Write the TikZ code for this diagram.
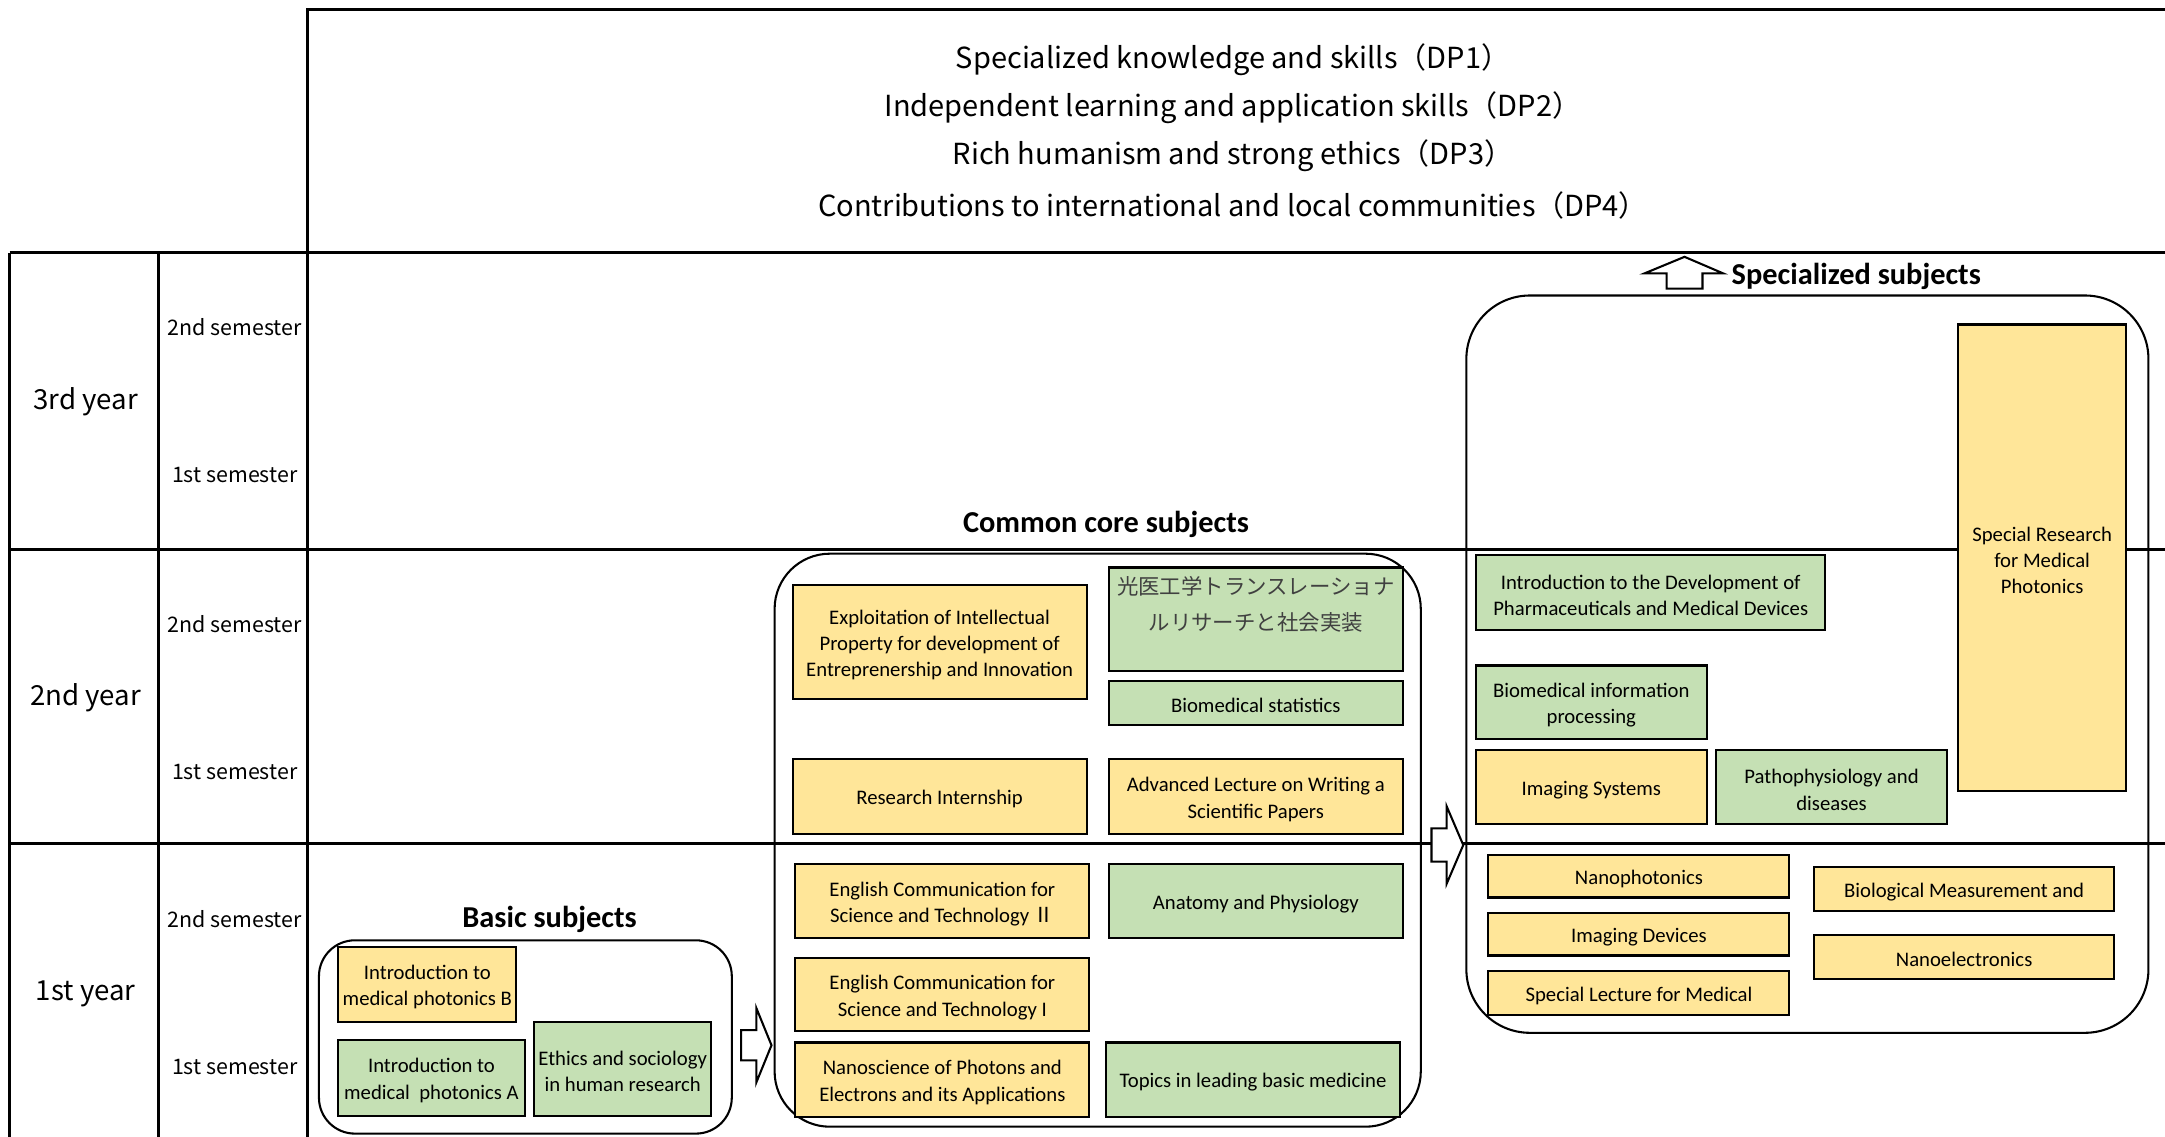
\documentclass[tikz,border=0pt]{standalone}
\usepackage{fontspec}
\setmainfont{Carlito}
\newfontfamily\cjk{Noto Sans CJK JP}
\definecolor{ylw}{HTML}{FFE699}
\definecolor{grn}{HTML}{C5E0B4}
\newcommand\subj[7]{\node[#1, minimum width={#4-#2}, minimum height={#5-#3}] (#6) at ({(#2+#4)/2},{(#3+#5)/2}) {};
  \node[boxtext] (#6-t) at ([yshift=-2pt]#6.center) {#7};}
\begin{document}
\begin{tikzpicture}[x=1pt,y=-1pt,
  gridline/.style={line width=2.2pt},
  sbox/.style={draw, line width=1.5pt, inner sep=0pt},
  boxtext/.style={inner sep=0pt, align=center, font=\fontsize{15}{19}\selectfont},
  ybox/.style={sbox, fill=ylw},
  gbox/.style={sbox, fill=grn},
  rbox/.style={draw, line width=1.5pt, inner sep=0pt},
  hdr/.style={font=\cjk\fontsize{21}{21}\selectfont, inner sep=0pt},
  yr/.style={font=\cjk\fontsize{20}{20}\selectfont, inner sep=0pt},
  sem/.style={font=\cjk\fontsize{15.5}{16}\selectfont, inner sep=0pt},
  ttl/.style={font=\bfseries\fontsize{22}{22}\selectfont, inner sep=0pt},
  blockarrow/.style={draw, fill=white, line width=1.5pt, line join=miter}]
\useasboundingbox (0,0) rectangle (1568,823);
\clip (0,0) rectangle (1568,823);
% grid
\draw[gridline] (1600,7) -- (223,7) -- (223,840);
\draw[gridline] (7,183) -- (1600,183);
\draw[gridline] (7,398) -- (1600,398);
\draw[gridline] (7,611) -- (1600,611);
\draw[gridline] (7,183) -- (7,840);
\draw[gridline] (115,183) -- (115,840);
% header
\node[hdr] (dp1) at (893,43) {Specialized knowledge and skills（DP1）};
\node[hdr] (dp2) at (893,78) {Independent learning and application skills（DP2）};
\node[hdr] (dp3) at (893,113) {Rich humanism and strong ethics（DP3）};
\node[hdr] (dp4) at (893,149) {Contributions to international and local communities（DP4）};
% year labels
\node[yr] (y3) at (62,291) {3rd year};
\node[yr] (y2) at (62,505) {2nd year};
\node[yr] (y1) at (62,720) {1st year};
\node[sem] (s32) at (170,237) {2nd semester};
\node[sem] (s31) at (170,344) {1st semester};
\node[sem] (s22) at (170,452) {2nd semester};
\node[sem] (s21) at (170,559) {1st semester};
\node[sem] (s12) at (170,666) {2nd semester};
\node[sem] (s11) at (170,773) {1st semester};
% group titles
\node[ttl] (tcore) at (801,380) {Common core subjects};
\node[ttl] (tbasic) at (398,666) {Basic subjects};
\node[ttl, anchor=west] (tspec) at (1254,200) {Specialized subjects};
% rounded group boxes
\node[rbox, rounded corners=40pt, minimum width=468, minimum height=415] (core) at (795,608.5) {};
\node[rbox, rounded corners=26pt, minimum width=299, minimum height=140] (basic) at (380.5,751) {};
\node[rbox, rounded corners=46pt, minimum width=494, minimum height=534] (spec) at (1309,481) {};
% common core subjects
\subj{ybox}{574}{424}{787}{506}{expl}{Exploitation of Intellectual\\Property for development of\\Entreprenership and Innovation}
\node[gbox, minimum width=213, minimum height=75] (jp) at (909.5,448.5) {};
\node[font=\cjk\fontsize{15.5}{26}\selectfont, text=black!75, align=center, anchor=north, inner sep=0pt] (jpt) at ([yshift=-7pt]jp.north) {光医工学トランスレーショナ\\ルリサーチと社会実装};
\subj{gbox}{803}{493}{1016}{525}{bstat}{Biomedical statistics}
\subj{ybox}{574}{550}{787}{604}{rint}{Research Internship}
\subj{ybox}{803}{550}{1016}{604}{adv}{Advanced Lecture on Writing a\\Scientific Papers}
\subj{ybox}{576}{626}{789}{679}{eng2}{English Communication for\\Science and Technology {\cjk Ⅱ}}
\subj{gbox}{803}{626}{1016}{679}{anat}{Anatomy and Physiology}
\subj{ybox}{576}{694}{789}{747}{eng1}{English Communication for\\Science and Technology I}
\subj{ybox}{576}{755}{789}{809}{nano}{Nanoscience of Photons and\\Electrons and its Applications}
\subj{gbox}{801}{755}{1014}{809}{topics}{Topics in leading basic medicine}
% basic subjects
\subj{ybox}{245}{686}{374}{740}{introB}{Introduction to\\medical photonics B}
\subj{gbox}{245}{753}{380}{808}{introA}{Introduction to\\medical\ \ photonics A}
\subj{gbox}{387}{740}{515}{808}{ethics}{Ethics and sociology\\in human research}
% specialized subjects
\subj{ybox}{1418}{235}{1540}{573}{sres}{Special Research\\for Medical\\Photonics}
\subj{gbox}{1069}{402}{1322}{456}{idev}{Introduction to the Development of\\Pharmaceuticals and Medical Devices}
\subj{gbox}{1069}{482}{1236}{535}{bip}{Biomedical information\\processing}
\subj{ybox}{1069}{543}{1236}{597}{imsys}{Imaging Systems}
\subj{gbox}{1243}{543}{1410}{597}{patho}{Pathophysiology and\\diseases}
\subj{ybox}{1078}{619}{1296}{650}{nphot}{Nanophotonics}
\subj{ybox}{1078}{661}{1296}{692}{imdev}{Imaging Devices}
\subj{ybox}{1078}{703}{1296}{735}{slec}{Special Lecture for Medical}
\subj{ybox}{1314}{628}{1531}{660}{biom}{Biological Measurement and}
\subj{ybox}{1314}{677}{1531}{709}{nelec}{Nanoelectronics}
% block arrows
\coordinate (a1) at (basic.east |- 0,757);
\draw[blockarrow] ([xshift=6pt]a1) ++(0,-11) -- ++(11,0) -- ++(0,-16) -- ++(11,27) -- ++(-11,27) -- ++(0,-16) -- ++(-11,0) -- cycle;
\coordinate (a2) at (core.east |- 0,612);
\draw[blockarrow] ([xshift=7pt]a2) ++(0,-12) -- ++(11,0) -- ++(0,-16) -- ++(12,28) -- ++(-12,28) -- ++(0,-16) -- ++(-11,0) -- cycle;
\coordinate (a3) at (1207,209);
\draw[blockarrow] (a3) -- ++(0,-11) -- ++(-16,0) -- ++(29,-12) -- ++(28,12) -- ++(-15,0) -- ++(0,11) -- cycle;
\end{tikzpicture}
\end{document}
